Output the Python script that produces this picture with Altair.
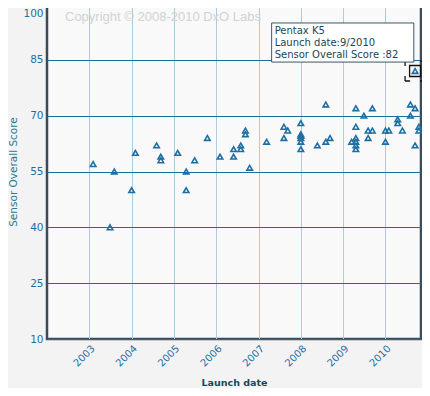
import altair as alt
import pandas as pd

# Launch date (decimal year) and sensor overall score
launch = [2003.09, 2003.49, 2003.59, 2004.00, 2004.09, 2004.59, 2004.69, 2004.69,
          2005.09, 2005.29, 2005.29, 2005.49, 2005.79, 2006.09, 2006.41, 2006.41,
          2006.58, 2006.58, 2006.69, 2006.69, 2006.79, 2007.19, 2007.60, 2007.69,
          2007.60, 2008.00, 2008.00, 2008.00, 2008.00, 2008.00, 2008.00, 2008.39,
          2008.59, 2008.69, 2008.59, 2009.20, 2009.30, 2009.30, 2009.30, 2009.30,
          2009.30, 2009.30, 2009.49, 2009.59, 2009.69, 2009.59, 2009.69, 2010.00,
          2010.08, 2010.00, 2010.29, 2010.29, 2010.40, 2010.59, 2010.70, 2010.59,
          2010.70, 2010.79, 2010.79, 2010.70]
score = [57, 40, 55, 50, 60, 62, 59, 58,
         60, 55, 50, 58, 64, 59, 61, 59,
         62, 61, 66, 65, 56, 63, 67, 66,
         64, 68, 65, 64.6, 64, 63, 61, 62,
         63, 64, 73, 63, 72, 67, 64, 63,
         62, 61, 70, 66, 66, 64, 72, 66,
         66, 63, 69, 68, 66, 73, 72, 70,
         62, 67, 66, 82]

year_ticks = [2003, 2004, 2005, 2006, 2007, 2008, 2009, 2010]
score_ticks = [10, 25, 40, 55, 70, 85, 100]

# highlighted camera (Pentax K5)
hl_name = "Pentax K5"
hl_date = "9/2010"
hl_x = [2010.70]
hl_y = [82]
tip_lines = [hl_name, "Launch date:" + hl_date, "Sensor Overall Score :82"]
tip_box_x = [2007.31]
tip_box_x2 = [2010.67]
tip_box_y = [94.9]
tip_box_y2 = [84.4]

df = pd.DataFrame({"launch": launch, "score": score})
hl = pd.DataFrame({"launch": hl_x, "score": hl_y})
box = pd.DataFrame({"x": tip_box_x, "x2": tip_box_x2, "y": tip_box_y, "y2": tip_box_y2})

BLUE = "#1d6fa3"
FONT = "DejaVu Sans"

xscale = alt.Scale(domain=[2002, 2010.84], nice=False, zero=False)
yscale = alt.Scale(domain=[10, 100], nice=False, zero=False)

x_axis = alt.Axis(values=year_ticks, format="d", labelAngle=-45, ticks=False, domain=False,
                  gridColor="#aecbdd", gridWidth=1, labelColor=BLUE, labelFont=FONT,
                  labelFontSize=10, labelPadding=4, title="Launch date",
                  titleFont=FONT, titleFontSize=9.5, titleFontWeight="bold",
                  titleColor="#17485a", titleY=48, titleBaseline="bottom")
y_axis = alt.Axis(values=score_ticks, ticks=False, domain=False, gridColor="#1f6d9c",
                  gridWidth=1.2, labelColor=BLUE, labelFont=FONT, labelFontSize=10.5,
                  labelPadding=4,
                  labelBaseline=alt.condition("datum.value == 100", alt.value("top"), alt.value("middle")),
                  labelOffset=alt.condition("datum.value == 100", alt.value(4), alt.value(0)),
                  title="Sensor Overall Score", titleFont=FONT,
                  titleFontSize=10.5, titleFontWeight="normal", titleColor="#2b7896",
                  titleX=-34, titleAngle=-90, titleBaseline="middle")

points = alt.Chart(df).mark_point(shape="triangle-up", filled=False, size=30,
                                  strokeWidth=1.6, color=BLUE, opacity=1).encode(
    x=alt.X("launch:Q", scale=xscale, axis=x_axis),
    y=alt.Y("score:Q", scale=yscale, axis=y_axis),
)

sel_inner = alt.Chart(hl).mark_point(shape="square", filled=False, size=121,
                                     strokeWidth=1.3, color="#111111", opacity=1).encode(
    x=alt.X("launch:Q", scale=xscale), y=alt.Y("score:Q", scale=yscale))
sel_outer = alt.Chart(hl).mark_point(shape="square", filled=False, size=400,
                                     strokeWidth=1.3, color="#111111", opacity=1,
                                     strokeDash=[5, 10, 5, 0], clip=False).encode(
    x=alt.X("launch:Q", scale=xscale), y=alt.Y("score:Q", scale=yscale))

tip_rect = alt.Chart(box).mark_rect(fill="#ffffff", stroke="#3b5565", strokeWidth=1).encode(
    x=alt.X("x:Q", scale=xscale), x2="x2:Q",
    y=alt.Y("y:Q", scale=yscale), y2="y2:Q")
tip_text = alt.Chart(box).mark_text(align="left", baseline="top", dx=3, dy=3,
                                    font=FONT, fontSize=10, color="#1b4656",
                                    lineHeight=12).encode(
    x=alt.X("x:Q", scale=xscale), y=alt.Y("y:Q", scale=yscale),
    text=alt.value(tip_lines))

copyright = alt.Chart(box).mark_text(align="left", baseline="middle",
                                     font="Liberation Sans", fontSize=13,
                                     color="#d2d2d2").encode(
    x=alt.value(18), y=alt.value(13),
    text=alt.value("Copyright \u00a9 2008-2010 DxO Labs"))

chart = alt.layer(copyright, points, sel_inner, sel_outer, tip_rect, tip_text).properties(
    width=374, height=335,
    autosize=alt.AutoSizeParams(type="none"),
    padding={"left": 39, "top": -4, "right": 1, "bottom": 49},
    background="#f3f3f3",
).configure_view(fill="#f9f9f9", stroke="#3d4a57", strokeWidth=2.5)

chart.save("out.html", embed_options={"renderer": "svg", "actions": False})
